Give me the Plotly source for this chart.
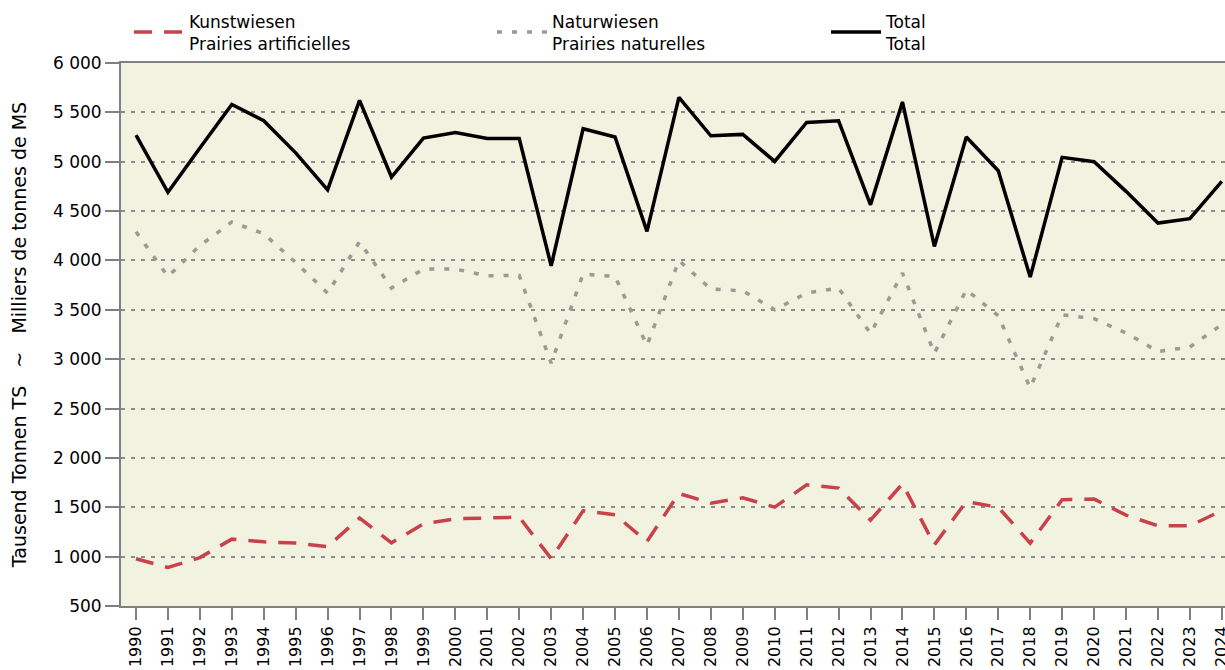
import plotly.graph_objects as go

years = list(range(1990, 2025))
year_labels = [str(y) for y in years]

kunstwiesen = [978, 890, 990, 1177, 1150, 1137, 1102, 1390, 1140, 1332, 1383, 1393, 1400, 980, 1464,
               1424, 1153, 1640, 1542, 1595, 1502, 1727, 1694, 1370, 1738, 1120, 1558, 1500, 1137,
               1576, 1583, 1420, 1312, 1312, 1467]
naturwiesen = [4290, 3838, 4150, 4390, 4270, 3980, 3670, 4190, 3720, 3913, 3913, 3845, 3848, 2960, 3862,
               3838, 3140, 4000, 3710, 3693, 3500, 3670, 3720, 3260, 3872, 3060, 3703, 3440, 2710,
               3450, 3410, 3265, 3078, 3123, 3350]
total = [5270, 4690, 5140, 5580, 5415, 5090, 4716, 5621, 4845, 5240, 5297, 5235, 5235, 3946, 5334,
         5250, 4294, 5652, 5263, 5277, 5003, 5398, 5415, 4564, 5605, 4142, 5250, 4909, 3832,
         5044, 5000, 4700, 4379, 4423, 4801]

y_ticks = list(range(500, 6001, 500))

FONT = "DejaVu Sans"
W, H = 1225, 670

fig = go.Figure()
fig.add_trace(go.Scatter(
    x=years, y=kunstwiesen, mode="lines",
    name="Kunstwiesen<br>Prairies artificielles",
    line=dict(color="#c8414b", width=3.5, dash="18px,12px"),
    legend="legend",
))
fig.add_trace(go.Scatter(
    x=years, y=naturwiesen, mode="lines",
    name="Naturwiesen<br>Prairies naturelles",
    line=dict(color="#a09893", width=3.5, dash="5px,10px"),
    legend="legend2",
))
fig.add_trace(go.Scatter(
    x=years, y=total, mode="lines",
    name="Total<br>Total",
    line=dict(color="#000000", width=3.5),
    legend="legend3",
))

leg_common = dict(
    orientation="h", xref="container", yref="container",
    yanchor="middle", y=1 - 32.5 / H, xanchor="left",
    font=dict(family=FONT, size=17, color="#000000"),
    bgcolor="rgba(0,0,0,0)", itemwidth=50,
)

fig.update_layout(
    width=W, height=H,
    margin=dict(l=121, r=0, t=63, b=64, autoexpand=False),
    paper_bgcolor="#ffffff",
    plot_bgcolor="#f2f2e1",
    font=dict(family=FONT, size=17, color="#000000"),
    separators=". ",
    showlegend=True,
    legend=dict(leg_common, x=129 / W),
    legend2=dict(leg_common, x=492 / W),
    legend3=dict(leg_common, x=826 / W),
    xaxis=dict(
        range=[1989.53, 2024.1],
        tickmode="array", tickvals=years, ticktext=year_labels,
        tickangle=-90, automargin=False, ticklabeloverflow="allow",
        showgrid=False, zeroline=False,
        showline=True, linecolor="#808080", linewidth=2, mirror=True,
        ticks="outside", ticklen=12, tickwidth=2, tickcolor="#808080",
        tickfont=dict(family=FONT, size=16, color="#000000"),
    ),
    yaxis=dict(
        range=[500, 6000], automargin=False,
        tickmode="array", tickvals=y_ticks,
        tickformat=",d",
        showgrid=True, gridcolor="#8c8c8c", gridwidth=2, griddash="4px,6px",
        zeroline=False,
        showline=True, linecolor="#808080", linewidth=2,
        ticks="outside", ticklen=14, tickwidth=2, tickcolor="#808080",
        tickfont=dict(family=FONT, size=17, color="#000000"),
        title=dict(text="Tausend Tonnen TS   ~   Milliers de tonnes de MS",
                   font=dict(family=FONT, size=19, color="#000000"), standoff=21),
    ),
)

fig.write_html(
    "out.html",
    config={"displayModeBar": False},
    post_script="document.body.style.margin='0';document.body.style.overflow='hidden';",
)
